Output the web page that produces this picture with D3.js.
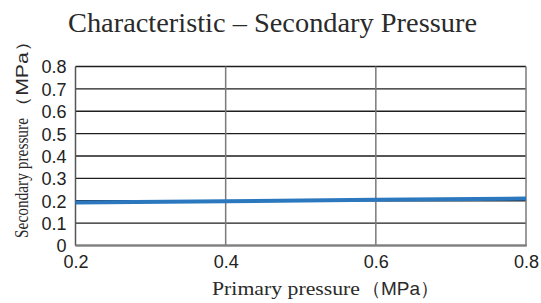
<!DOCTYPE html>
<html>
<head>
<meta charset="utf-8">
<script src="https://cdn.jsdelivr.net/npm/d3@7"></script>
<style>
  body { margin: 0; background: #fff; }
  svg { display: block; }
</style>
</head>
<body>
<div class="chart"></div>
<script>
// data
const primary = [0.2, 0.4, 0.6, 0.8];
const secondary = [0.192, 0.198, 0.204, 0.21];
const xTicks = [0.2, 0.4, 0.6, 0.8];
const yTicks = [0, 0.1, 0.2, 0.3, 0.4, 0.5, 0.6, 0.7, 0.8];

const w = 541, h = 303;
const margin = { top: 66.5, right: 15, bottom: 57.5, left: 75.5 };
const chartWidth = w - margin.left - margin.right;
const chartHeight = h - margin.top - margin.bottom;

const serif = "'Liberation Serif', 'DejaVu Serif', serif";
const sans = "'Liberation Sans', Arial, sans-serif";

const xScale = d3.scaleLinear().domain([0.2, 0.8]).range([0, chartWidth]);
const yScale = d3.scaleLinear().domain([0, 0.8]).range([chartHeight, 0]);

const svg = d3.select('.chart').append('svg')
    .attr('width', w)
    .attr('height', h);

svg.append('text')
    .attr('x', 68)
    .attr('y', 32)
    .attr('textLength', 409)
    .attr('lengthAdjust', 'spacingAndGlyphs')
    .style('font-family', serif)
    .style('font-size', '28px')
    .style('fill', '#2a2a2a')
    .text('Characteristic – Secondary Pressure');

const g = svg.append('g')
    .attr('transform', 'translate(' + margin.left + ',' + margin.top + ')');

// horizontal grid
g.append('g')
    .selectAll('line')
    .data(yTicks)
    .enter()
    .append('line')
    .attr('x1', 0)
    .attr('x2', chartWidth)
    .attr('y1', d => yScale(d))
    .attr('y2', d => yScale(d))
    .attr('stroke', '#1e1e1e')
    .attr('stroke-width', 1.3);

// vertical grid
g.append('g')
    .selectAll('line')
    .data(xTicks)
    .enter()
    .append('line')
    .attr('x1', d => xScale(d))
    .attr('x2', d => xScale(d))
    .attr('y1', 0)
    .attr('y2', chartHeight)
    .attr('stroke', d => d === 0.2 ? '#555' : '#7a7a7a')
    .attr('stroke-width', 1.5);

// bottom frame
g.append('line')
    .attr('x1', 0)
    .attr('x2', chartWidth + 1)
    .attr('y1', chartHeight)
    .attr('y2', chartHeight)
    .attr('stroke', '#808080')
    .attr('stroke-width', 2);

const yAxis = d3.axisLeft(yScale).tickValues(yTicks).tickSize(0).tickPadding(9)
    .tickFormat(d => d === 0 ? '0' : d3.format('.1f')(d));
const xAxis = d3.axisBottom(xScale).tickValues(xTicks).tickSize(0).tickPadding(7)
    .tickFormat(d3.format('.1f'));

const ya = g.append('g').call(yAxis);
const xa = g.append('g').attr('transform', 'translate(0,' + chartHeight + ')').call(xAxis);
[ya, xa].forEach(a => {
    a.select('.domain').remove();
    a.selectAll('text')
        .style('font-family', sans)
        .style('font-size', '18px')
        .style('fill', '#222');
});
ya.selectAll('text').attr('dy', '0.36em');
xa.selectAll('text').attr('dy', '0.88em');

const line = d3.line()
    .x((d, i) => xScale(primary[i]))
    .y(d => yScale(d));

g.append('path')
    .datum(secondary)
    .attr('d', line)
    .attr('fill', 'none')
    .attr('stroke', '#2b78be')
    .attr('stroke-width', 4);

// x axis title
svg.append('text')
    .attr('x', 212)
    .attr('y', 295)
    .attr('textLength', 148)
    .attr('lengthAdjust', 'spacingAndGlyphs')
    .style('font-family', serif)
    .style('font-size', '18px')
    .style('fill', '#2a2a2a')
    .text('Primary pressure');
svg.append('text')
    .attr('x', 362)
    .attr('y', 295)
    .attr('textLength', 77)
    .attr('lengthAdjust', 'spacingAndGlyphs')
    .style('font-family', sans)
    .style('font-size', '19px')
    .style('fill', '#2a2a2a')
    .text('（MPa）');

// y axis title
svg.append('text')
    .attr('transform', 'translate(28,238) rotate(-90)')
    .attr('textLength', 120)
    .attr('lengthAdjust', 'spacingAndGlyphs')
    .style('font-family', serif)
    .style('font-size', '18px')
    .style('fill', '#2a2a2a')
    .text('Secondary pressure');
svg.append('text')
    .attr('transform', 'translate(28,117) rotate(-90)')
    .attr('textLength', 86)
    .attr('lengthAdjust', 'spacingAndGlyphs')
    .style('font-family', sans)
    .style('font-size', '17px')
    .style('fill', '#2a2a2a')
    .text('（MPa）');
</script>
</body>
</html>
